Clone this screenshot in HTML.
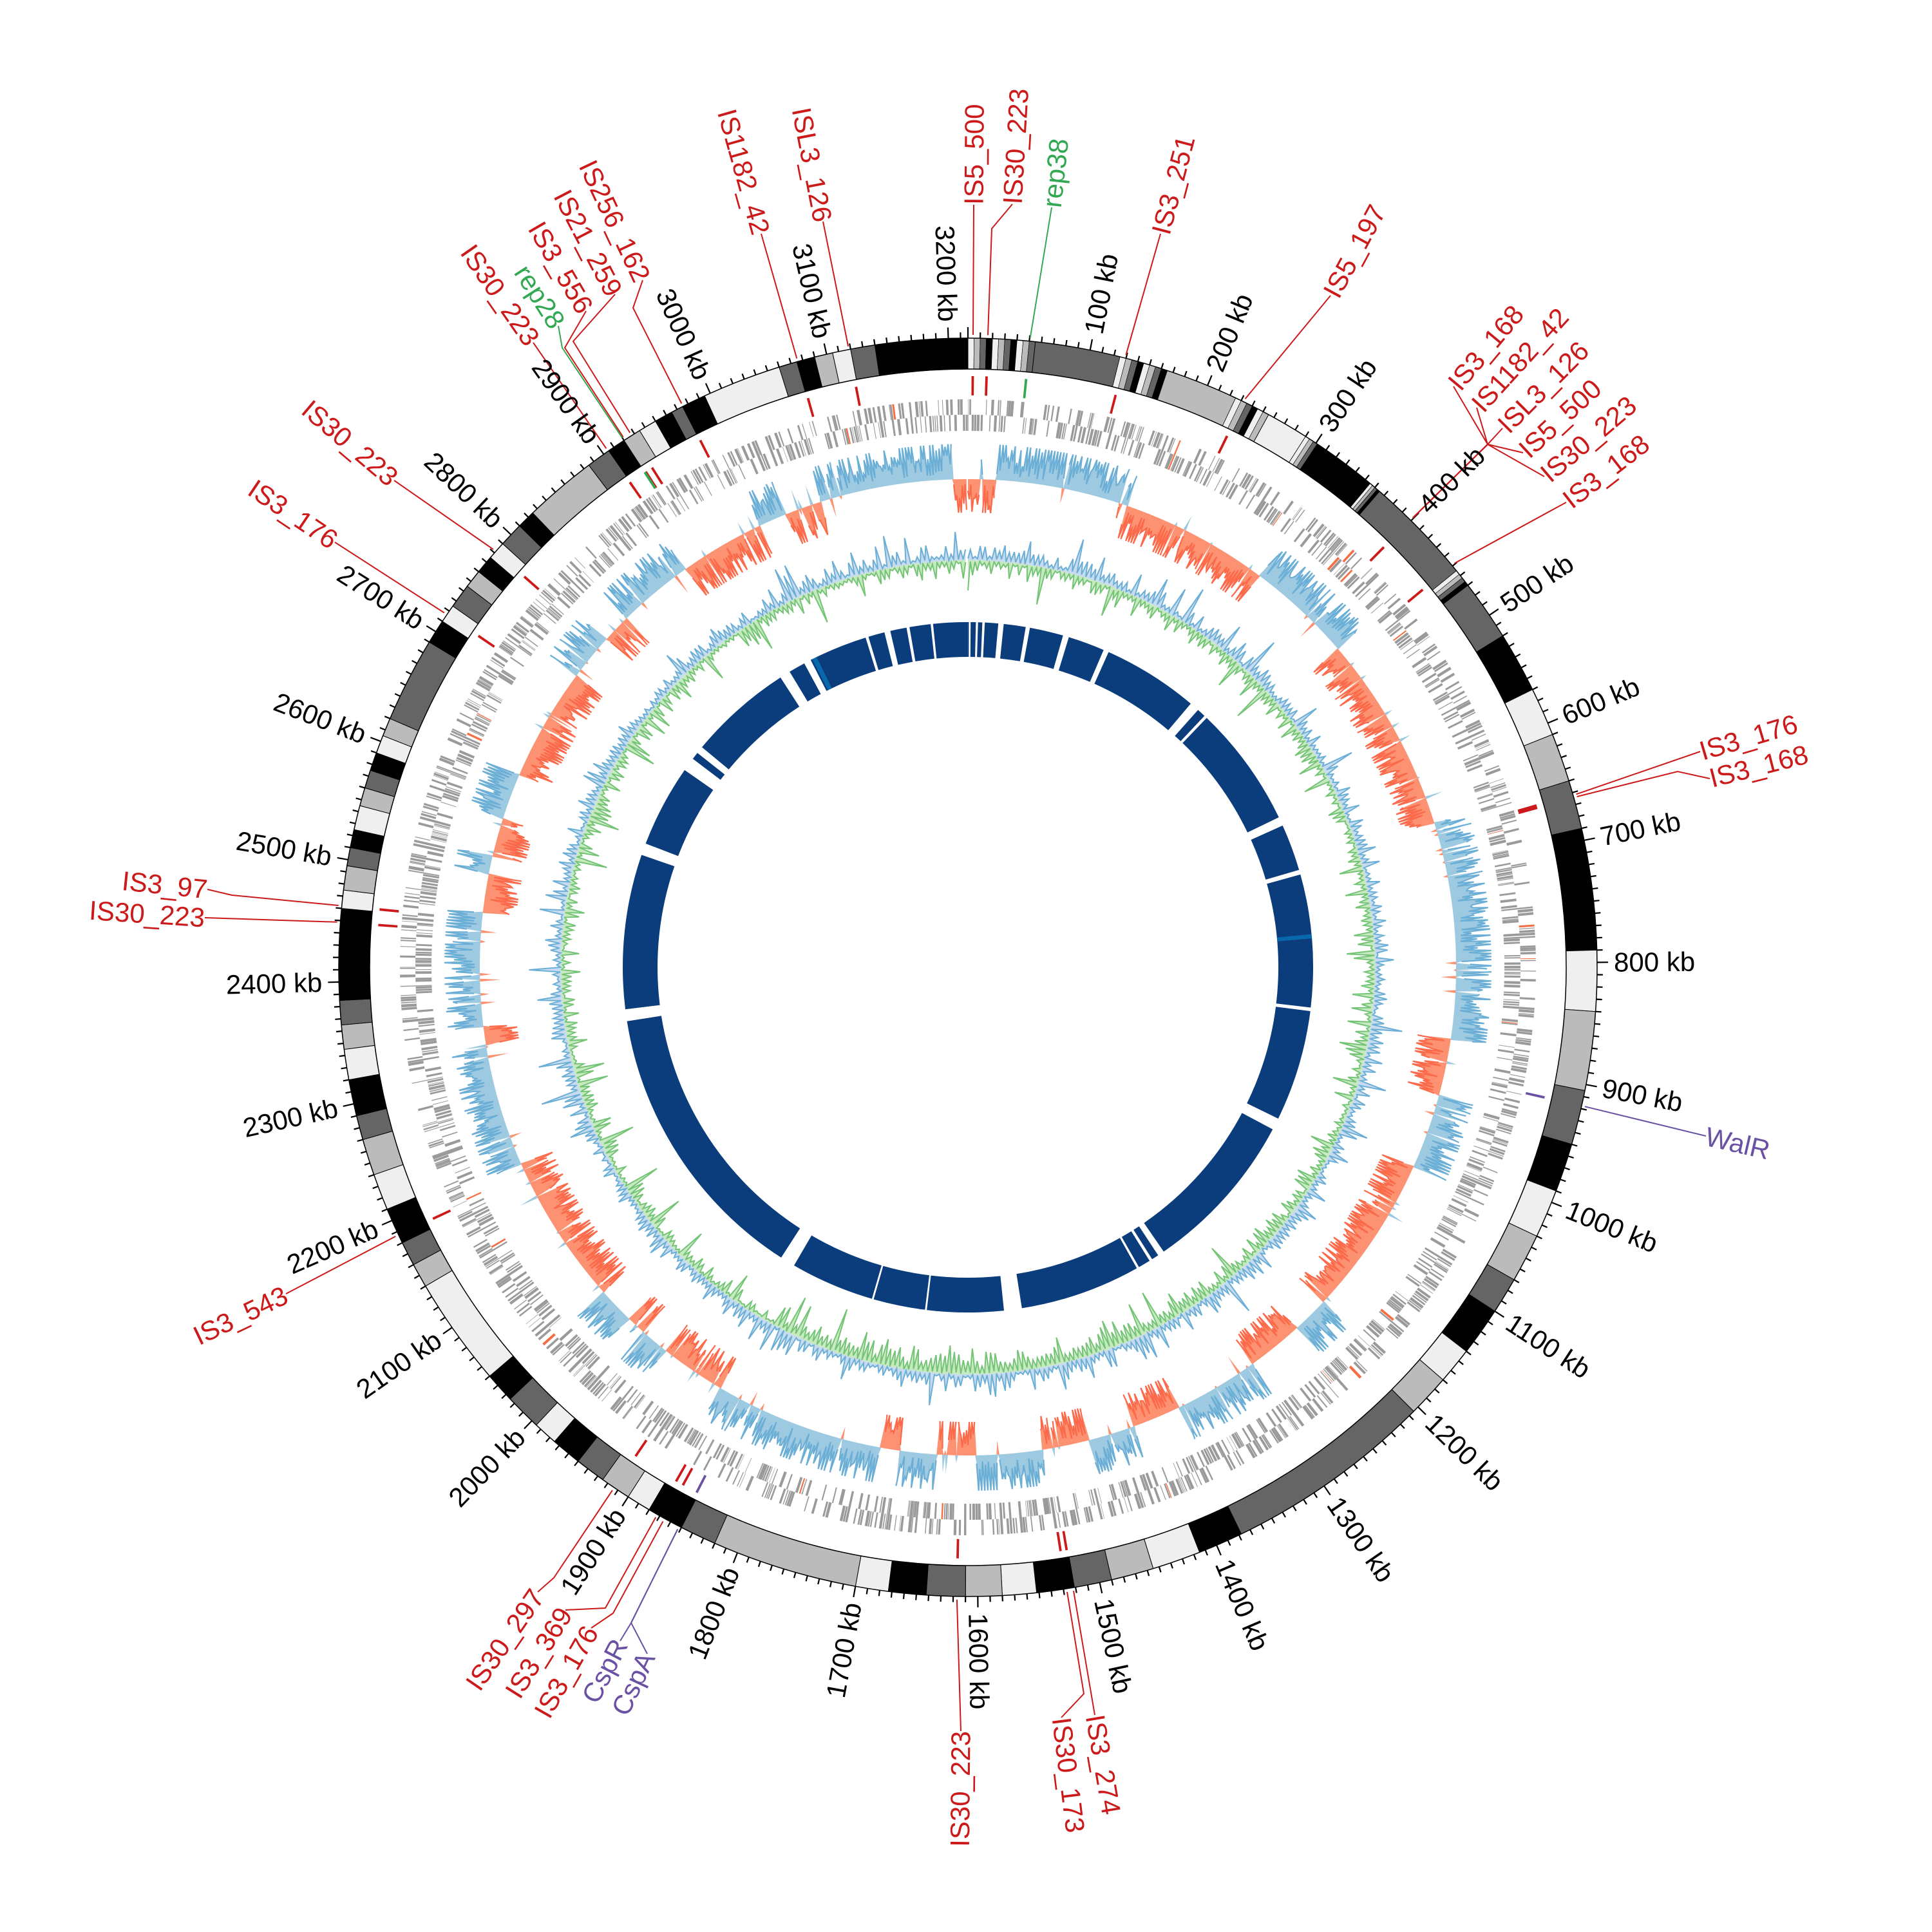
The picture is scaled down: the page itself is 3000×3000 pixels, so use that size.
<!DOCTYPE html>
<html><head><meta charset="utf-8">
<style>
html,body{margin:0;padding:0;background:#fff;}
svg{display:block;}
.tk{font-family:"Liberation Sans",sans-serif;font-size:42px;fill:#000;}
.lb{font-family:"Liberation Sans Narrow","Liberation Sans",sans-serif;font-size:42px;}
</style></head>
<body>
<svg id="s" width="3000" height="3000" viewBox="0 0 3000 3000" xmlns="http://www.w3.org/2000/svg">
<rect width="3000" height="3000" fill="#fff"/>
<g id="draw"></g>
<g id="tl" class="tk">
<text>100 kb</text><text>200 kb</text><text>300 kb</text><text>400 kb</text><text>500 kb</text><text>600 kb</text><text>700 kb</text><text>800 kb</text><text>900 kb</text><text>1000 kb</text><text>1100 kb</text><text>1200 kb</text><text>1300 kb</text><text>1400 kb</text><text>1500 kb</text><text>1600 kb</text><text>1700 kb</text><text>1800 kb</text><text>1900 kb</text><text>2000 kb</text><text>2100 kb</text><text>2200 kb</text><text>2300 kb</text><text>2400 kb</text><text>2500 kb</text><text>2600 kb</text><text>2700 kb</text><text>2800 kb</text><text>2900 kb</text><text>3000 kb</text><text>3100 kb</text><text>3200 kb</text>
</g>
<g id="lb" class="lb">
<text fill="#cc1a1a">IS5_500</text>
<text fill="#cc1a1a">IS30_223</text>
<text fill="#33a852">rep38</text>
<text fill="#cc1a1a">IS3_251</text>
<text fill="#cc1a1a">IS5_197</text>
<text fill="#cc1a1a">ISL3_126</text>
<text fill="#cc1a1a">IS1182_42</text>
<text fill="#cc1a1a">IS256_162</text>
<text fill="#cc1a1a">IS21_259</text>
<text fill="#cc1a1a">IS3_556</text>
<text fill="#33a852">rep28</text>
<text fill="#cc1a1a">IS30_223</text>
<text fill="#cc1a1a">IS30_223</text>
<text fill="#cc1a1a">IS3_176</text>
<text fill="#cc1a1a">IS3_97</text>
<text fill="#cc1a1a">IS30_223</text>
<text fill="#cc1a1a">IS3_543</text>
<text fill="#cc1a1a">IS30_297</text>
<text fill="#cc1a1a">IS3_369</text>
<text fill="#cc1a1a">IS3_176</text>
<text fill="#6a51a3">CspR</text>
<text fill="#6a51a3">CspA</text>
<text fill="#cc1a1a">IS30_223</text>
<text fill="#cc1a1a">IS30_173</text>
<text fill="#cc1a1a">IS3_274</text>
<text fill="#6a51a3">WalR</text>
<text fill="#cc1a1a">IS3_176</text>
<text fill="#cc1a1a">IS3_168</text>
<text fill="#cc1a1a">IS3_168</text>
<text fill="#cc1a1a">IS1182_42</text>
<text fill="#cc1a1a">ISL3_126</text>
<text fill="#cc1a1a">IS5_500</text>
<text fill="#cc1a1a">IS30_223</text>
<text fill="#cc1a1a">IS3_168</text>
</g>
</svg>
<script>
(function(){
var CX=1503,CY=1502,G=3216;
var seed=7;function rnd(){seed=(seed*16807)%2147483647;return (seed-1)/2147483646;}
function gs(){return rnd()+rnd()+rnd()-1.5;}
function A(k){return k*360/G;}
function P(a,r){var t=a*Math.PI/180;return [CX+r*Math.sin(t),CY-r*Math.cos(t)];}
function f(p){return p[0].toFixed(1)+","+p[1].toFixed(1);}
function sec(a1,a2,r1,r2){var l=(a2-a1)>180?1:0;return "M"+f(P(a1,r2))+"A"+r2+","+r2+" 0 "+l+" 1 "+f(P(a2,r2))+"L"+f(P(a2,r1))+"A"+r1+","+r1+" 0 "+l+" 0 "+f(P(a1,r1))+"Z";}
var out=[];
function path(d,fill,extra){out.push('<path d="'+d+'" fill="'+fill+'" '+(extra||'')+'/>');}
var COL={K:"#000",D:"#656565",G:"#bbbbbb",L:"#efefef"};
var B=[[0,55,'S'],[55,125,'D'],[125,165,'S'],[165,225,'G'],[225,255,'S'],[255,290,'L'],[290,305,'S'],[305,355,'K'],[355,365,'S'],[365,455,'D'],[455,470,'S'],[470,520,'D'],[520,570,'K'],[570,610,'L'],[610,650,'G'],[650,690,'D'],[690,790,'K'],[790,840,'L'],[840,905,'G'],[905,950,'D'],[950,990,'K'],[990,1030,'L'],[1030,1070,'G'],[1070,1100,'D'],[1100,1140,'K'],[1140,1170,'L'],[1170,1205,'G'],[1205,1378,'D'],[1378,1415,'K'],[1415,1455,'L'],[1455,1490,'G'],[1490,1521,'D'],[1521,1552,'K'],[1552,1580,'L'],[1580,1610,'G'],[1610,1642,'D'],[1642,1673,'K'],[1673,1700,'L'],[1700,1820,'G'],[1820,1850,'D'],[1850,1880,'K'],[1880,1900,'L'],[1900,1925,'G'],[1925,1950,'D'],[1950,1975,'K'],[1975,1995,'L'],[1995,2025,'D'],[2025,2050,'K'],[2050,2140,'L'],[2140,2160,'G'],[2160,2180,'D'],[2180,2210,'K'],[2210,2240,'L'],[2240,2270,'G'],[2270,2290,'D'],[2290,2320,'K'],[2320,2345,'L'],[2345,2365,'G'],[2365,2385,'D'],[2385,2460,'K'],[2460,2475,'L'],[2475,2495,'G'],[2495,2510,'D'],[2510,2525,'K'],[2525,2545,'L'],[2545,2560,'G'],[2560,2575,'D'],[2575,2590,'K'],[2590,2605,'L'],[2605,2620,'G'],[2620,2690,'D'],[2690,2710,'K'],[2710,2725,'L'],[2725,2745,'D'],[2745,2760,'G'],[2760,2775,'K'],[2775,2790,'L'],[2790,2810,'D'],[2810,2825,'K'],[2825,2885,'G'],[2885,2905,'D'],[2905,2920,'K'],[2920,2935,'G'],[2935,2950,'L'],[2950,2965,'K'],[2965,2975,'D'],[2975,2995,'K'],[2995,3060,'L'],[3060,3075,'D'],[3075,3090,'K'],[3090,3105,'G'],[3105,3120,'L'],[3120,3140,'D'],[3140,3216,'K']];
var R1=929,R2=977,seq=['L','G','D','K'];
B.forEach(function(b){
 if(b[2]==='S'){var n=Math.max(4,Math.round((b[1]-b[0])/5));var w=(b[1]-b[0])/n;for(var i=0;i<n;i++){path(sec(A(b[0]+i*w),A(b[0]+(i+1)*w),R1,R2),COL[seq[i%4]],'stroke="#000" stroke-width="0.6"');}}
 else path(sec(A(b[0]),A(b[1]),R1,R2),COL[b[2]],'stroke="#000" stroke-width="1"');
});
out.push('<circle cx="'+CX+'" cy="'+CY+'" r="'+R2+'" fill="none" stroke="#000" stroke-width="1.5"/>');
out.push('<circle cx="'+CX+'" cy="'+CY+'" r="'+R1+'" fill="none" stroke="#000" stroke-width="1.5"/>');
var td="";for(var k=0;k<G;k+=10){var L=(k%100===0)?17:9;td+="M"+f(P(A(k),R2))+"L"+f(P(A(k),R2+L));}
out.push('<path d="'+td+'" stroke="#000" stroke-width="2.2" fill="none"/>');
var gd="",rd="";
for(var k=0;k<G;){var w=0.4+rnd()*2.2;var row=rnd();var r1,r2;
 if(row<0.45){r1=858;r2=882;}else if(row<0.9){r1=833;r2=858;}else{r1=833;r2=882;}
 if(rnd()<0.82){var d=sec(A(k),A(k+w),r1,r2);if(rnd()<0.015)rd+=d;else gd+=d;}
 k+=w+rnd()*1.2;}
path(gd,"#9a9a9a");path(rd,"#f46d43");
var S=[[0,30,-1],[30,170,1],[170,330,-1],[330,440,1],[440,520,-1],[520,650,-1],[650,880,1],[880,940,-1],[940,1020,1],[1020,1190,-1],[1190,1230,1],[1230,1290,-1],[1290,1380,1],[1380,1430,-1],[1430,1480,1],[1480,1530,-1],[1530,1600,1],[1600,1640,-1],[1640,1680,1],[1680,1700,-1],[1700,1880,1],[1880,1950,-1],[1950,1980,1],[1980,2000,-1],[2000,2040,1],[2040,2200,-1],[2200,2330,1],[2330,2350,-1],[2350,2470,1],[2470,2510,-1],[2510,2530,1],[2530,2570,-1],[2570,2620,1],[2620,2740,-1],[2740,2790,1],[2790,2820,-1],[2820,2900,1],[2900,2990,-1],[2990,3020,1],[3020,3060,-1],[3060,3200,1],[3200,3216,-1]];
function sgn(k){for(var i=0;i<S.length;i++)if(k>=S[i][0]&&k<S[i][1])return S[i][2];return 1;}
function wig(base,vals,step,fillC,strokeC,pos,sw){
 var n=vals.length,d="",st="",pen=false;
 for(var i=0;i<n;i++){var v=vals[i];v=pos?Math.max(0,v):Math.min(0,v);var p=P(A(i*step),base+v);d+=(i?"L":"M")+f(p);
  if(v!==0){st+=(pen?"L":"M")+f(p);pen=true;}else pen=false;}
 for(var i=n-1;i>=0;i--){d+="L"+f(P(A(i*step),base));}
 d+="Z";path(d,fillC);out.push('<path d="'+st+'" fill="none" stroke="'+strokeC+'" stroke-width="'+(sw||2.2)+'" stroke-linejoin="miter"/>');
}
var st=1.5,n=Math.ceil(G/st),sk=[];
for(var i=0;i<n;i++){var s=sgn(i*st);var a=(i%2?0.55:0.15)+rnd()*0.6;var v=s*(6+44*a*a*1.4);if(rnd()<0.04)v=-v*0.4;sk.push(Math.max(-52,Math.min(55,v)));}
wig(758,sk,st,"#9ecae1","#6baed6",true);
wig(758,sk,st,"#fc9272","#fb6a4a",false);
var st2=3,n2=Math.ceil(G/st2),gb=[],gg=[];
for(var i=0;i<n2;i++){var odd=(i%2)==1;var k=i*st2;var bias=(k>1300&&k<1850)?8:0;
 var b=odd?(4+Math.abs(gs())*28+(rnd()<0.06?30:0)):(rnd()*4);
 var g=odd?(rnd()*4):(4+Math.abs(gs())*26+(rnd()<0.06?30:0)+bias);
 gb.push(Math.min(75,b));gg.push(-Math.min(80,g));}
wig(632,gg,st2,"#c7e9c0","#74c476",false,2);
wig(632,gb,st2,"#c6dbef","#6baed6",true,2);
var gaps=[[0.3,0.3],[1.5,0.35],[2.6,0.4],[5.5,0.9],[10,0.7],[16.5,1],[23.6,0.9],[41,1.6],[43.5,0.5],[65,1.5],[74,0.8],[97,0.6],[117,2],[146,1.1],[148,0.5],[150.5,0.4],[172.5,3],[187,0.3],[196,0.3],[211.5,2.5],[262,2],[290,2],[306,2.3],[309,1.2],[328,1.8],[332.3,1.2],[343,0.5],[346.5,1],[350,0.5],[354,0.4]];
gaps.sort(function(a,b){return a[0]-b[0];});
var cur=0,bd="";
gaps.forEach(function(g){var s=g[0]-g[1]/2,e=g[0]+g[1]/2;if(s>cur)bd+=sec(cur,s,482,536);cur=Math.max(cur,e);});
if(cur<360)bd+=sec(cur,359.99,482,536);
path(bd,"#0b3d7d");
path(sec(84.5,85.2,482,536)+sec(333.2,334,482,536),"#0868ac");
var LB=[
[1512,318,1511,520,null],[1572,317,1534,520,[1540,355]],[1633,322,1600,522,null],[1802,363,1750,545,null],[2066,459,1923,641,null],
[1278,344,1316,532,null],[1182,363,1234,545,null],[998,435,1055,620,[983,478]],[955,457,975,667,[890,530]],[910,483,964,673,[877,540]],[867,506,963,675,[873,540]],[828,532,930,680,null],
[612,746,775,861,null],[520,842,689,951,null],[322,1381,526,1406,[360,1390]],[318,1425,526,1432,null],[444,2009,616,1919,null],
[835,2472,949,2317,[860,2450]],[878,2500,1017,2358,[940,2497]],[918,2528,1028,2365,[952,2505]],[963,2548,1051,2377,[980,2520]],[1005,2568,1051,2377,[980,2520]],
[1492,2688,1486,2477,null],[1648,2667,1657,2472,[1683,2630]],[1700,2663,1667,2470,null],
[2649,1764,2460,1718,null],[2640,1167,2452,1232,null],[2655,1209,2452,1236,[2605,1198]],
[2257,600,2190,808,[2310,690]],[2293,633,2193,805,[2310,690]],[2333,665,2196,802,[2310,690]],[2365,703,2199,799,[2310,690]],[2398,740,2202,796,[2310,690]],[2432,780,2240,890,null]];
var texts=document.querySelectorAll('#lb text');
var md={};
LB.forEach(function(l,i){
 var t=texts[i];var c=t.getAttribute('fill');
 var am=Math.atan2(l[2]-CX,-(l[3]-CY))*180/Math.PI;
 var p0=P(am,982);var d="M"+f(p0);if(l[4])d+="L"+l[4][0]+","+l[4][1];d+="L"+l[0]+","+l[1];
 out.push('<path d="'+d+'" fill="none" stroke="'+c+'" stroke-width="2"/>');
 md[c]=(md[c]||"")+sec(am-0.12,am+0.12,888,918);
 var th=Math.atan2(l[0]-CX,-(l[1]-CY))*180/Math.PI;if(th<0)th+=360;
 var rot,anc;if(th<180){rot=th-90;anc='start';}else{rot=th+90;anc='end';}
 t.setAttribute('x',l[0]);t.setAttribute('y',l[1]);t.setAttribute('text-anchor',anc);
 t.setAttribute('dominant-baseline','central');
 t.setAttribute('transform','rotate('+rot.toFixed(2)+' '+l[0]+' '+l[1]+')');
});
for(var c in md)path(md[c],c);
var tt=document.querySelectorAll('#tl text');
for(var i=0;i<tt.length;i++){var k=(i+1)*100;var th=A(k);var p=P(th,1003);var rot,anc;
 if(th<180){rot=th-90;anc='start';}else{rot=th+90;anc='end';}
 tt[i].setAttribute('x',p[0].toFixed(1));tt[i].setAttribute('y',p[1].toFixed(1));tt[i].setAttribute('text-anchor',anc);
 tt[i].setAttribute('dominant-baseline','central');
 tt[i].setAttribute('transform','rotate('+rot.toFixed(2)+' '+p[0].toFixed(1)+' '+p[1].toFixed(1)+')');}
document.getElementById('draw').innerHTML=out.join('');
})();
</script>
</body></html>
